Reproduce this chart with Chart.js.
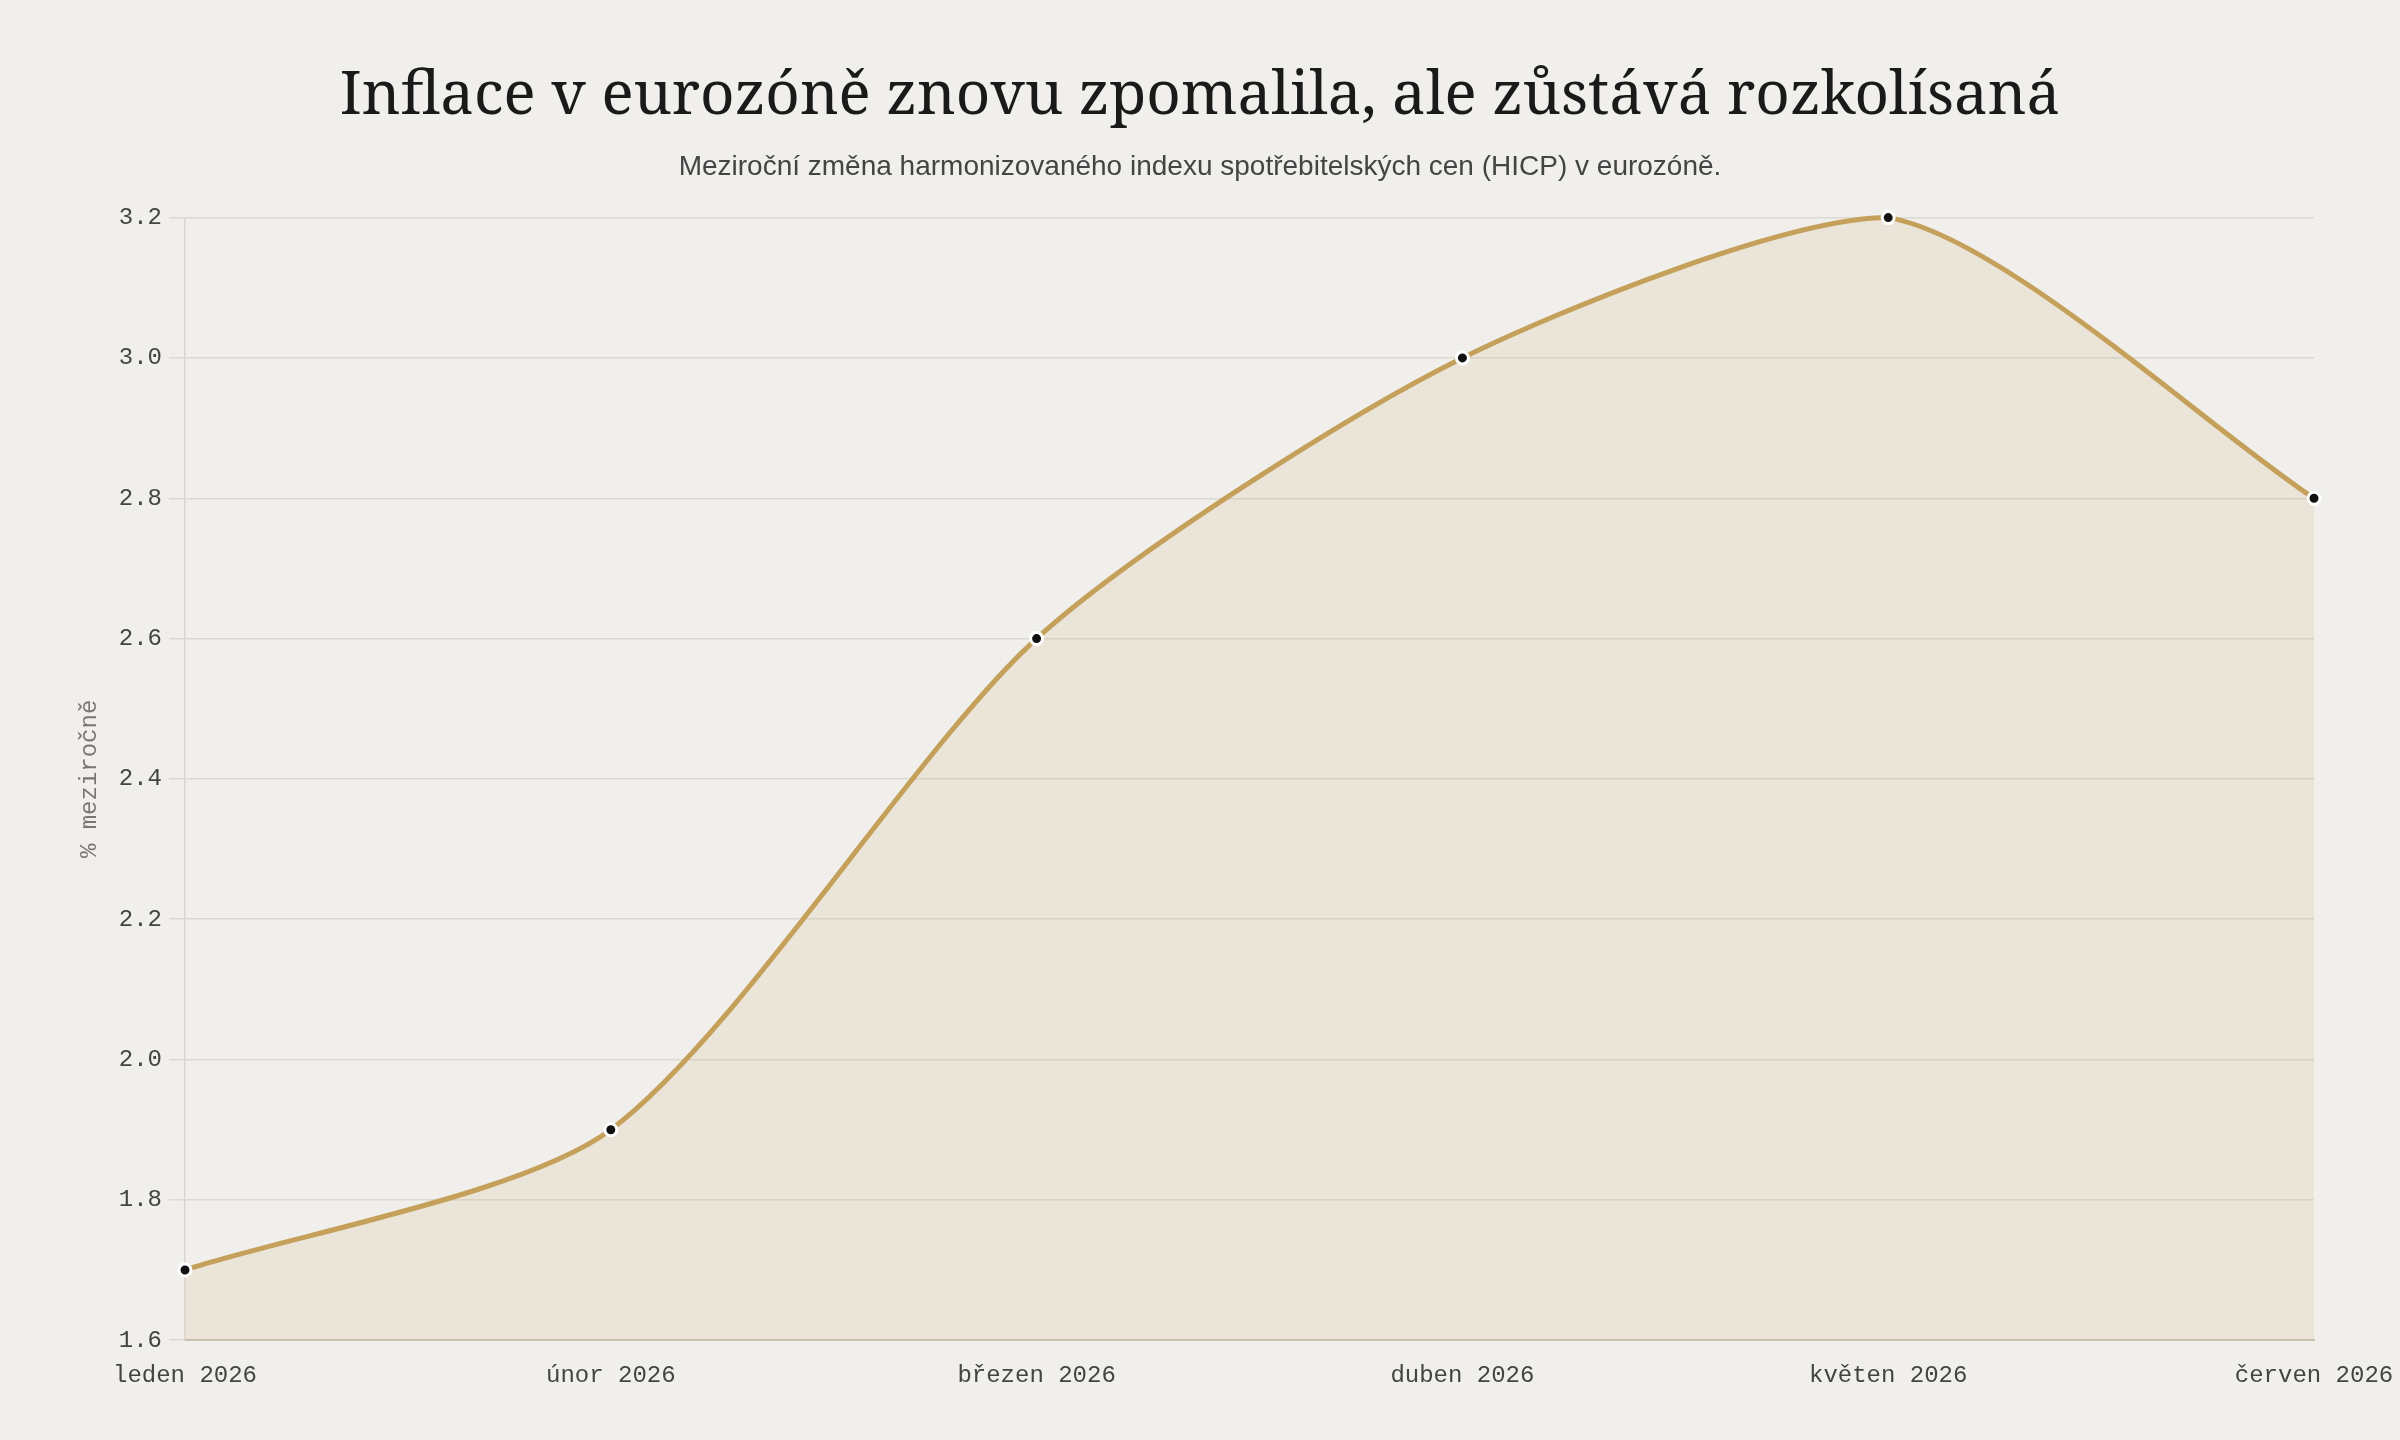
<!DOCTYPE html>
<html lang="cs">
<head>
<meta charset="utf-8">
<title>Inflace v eurozóně</title>
<script src="https://cdn.jsdelivr.net/npm/chart.js@4.4.1/dist/chart.umd.min.js"></script>
<style>
  html, body { margin: 0; padding: 0; background: #f1efeb; }
  #wrap { width: 2400px; height: 1440px; position: relative; }
</style>
</head>
<body>
<div id="wrap"><canvas id="hicpChart"></canvas></div>
<script>
// Data - meziroční HICP v eurozóně
const mesice = ['leden 2026', 'únor 2026', 'březen 2026', 'duben 2026', 'květen 2026', 'červen 2026'];
const inflace = [1.7, 1.9, 2.6, 3.0, 3.2, 2.8];
const osaYMin = 1.6;
const osaYMax = 3.2;
const osaYKrok = 0.2;

const monoFont = "'Liberation Mono', 'DejaVu Sans Mono', monospace";

function initChart() {
    const ctx = document.getElementById('hicpChart').getContext('2d');
    new Chart(ctx, {
        type: 'line',
        data: {
            labels: mesice,
            datasets: [{
                label: 'HICP (% meziročně)',
                data: inflace,
                borderColor: 'rgb(196, 160, 90)',
                backgroundColor: 'rgba(196, 160, 90, 0.13)',
                borderWidth: 5,
                fill: 'start',
                tension: 0.25,
                pointRadius: 6,
                pointBorderWidth: 3,
                pointBackgroundColor: '#111111',
                pointBorderColor: '#ffffff',
                clip: false
            }]
        },
        options: {
            responsive: true,
            maintainAspectRatio: false,
            devicePixelRatio: 1,
            animation: false,
            layout: {
                padding: { top: 60, left: 54, right: 54, bottom: 37 }
            },
            plugins: {
                legend: { display: false },
                tooltip: { enabled: false },
                title: {
                    display: true,
                    text: 'Inflace v eurozóně znovu zpomalila, ale zůstává rozkolísaná',
                    color: '#1a1a1a',
                    font: { family: "'Noto Serif', 'DejaVu Serif', serif", size: 60, weight: 'normal', lineHeight: 1.2 },
                    padding: { top: 1, bottom: 17 }
                },
                subtitle: {
                    display: true,
                    text: 'Meziroční změna harmonizovaného indexu spotřebitelských cen (HICP) v eurozóně.',
                    color: '#444444',
                    font: { family: "'Liberation Sans', Arial, sans-serif", size: 28, lineHeight: 1.2 },
                    padding: { top: 0, bottom: 34 }
                }
            },
            scales: {
                x: {
                    offset: false,
                    grid: { display: false },
                    border: { display: true, color: '#c8c1b6', width: 2 },
                    ticks: {
                        color: '#444444',
                        font: { family: monoFont, size: 24 },
                        padding: 13,
                        maxRotation: 0,
                        autoSkip: false
                    },
                    // poslední popisek přesahuje vpravo, okraj grafu držíme pevně
                    afterFit: scale => { scale.paddingRight = 86; }
                },
                y: {
                    min: osaYMin,
                    max: osaYMax,
                    grid: { color: '#dcd9d3', lineWidth: 1.5, tickLength: 16 },
                    border: { display: true, color: '#d9d6d0', width: 1.5 },
                    ticks: {
                        stepSize: osaYKrok,
                        color: '#444444',
                        padding: 7,
                        font: { family: monoFont, size: 24 },
                        callback: value => Number(value).toFixed(1)
                    },
                    title: {
                        display: true,
                        text: '% meziročně',
                        color: '#7a7772',
                        font: { family: monoFont, size: 24, lineHeight: 1.2 },
                        padding: { top: 21, bottom: 8 }
                    }
                }
            }
        }
    });
}

window.onload = initChart;
</script>
</body>
</html>
